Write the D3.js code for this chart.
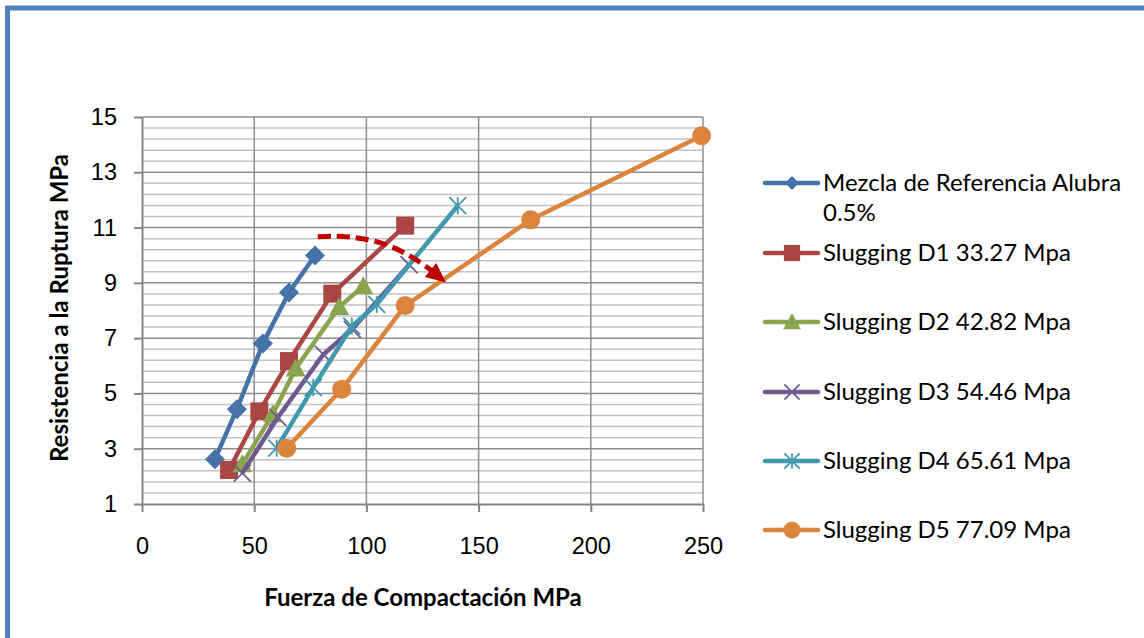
<!DOCTYPE html>
<meta charset="utf-8">
<style>
body { margin: 0; background: #fff; }
svg { display: block; font-family: Lato, "Open Sans", sans-serif; }
.grid-minor line { stroke: #c3c3c3; stroke-width: 1.5px; }
.grid-major line { stroke: #8e8e8e; stroke-width: 1.5px; }
.axis path, .axis line { stroke: #868686; stroke-width: 2px; }
.axis text { font-size: 23.5px; fill: #000; }
.title { font-weight: bold; font-size: 24px; fill: #000; }
.legend text { font-size: 24px; fill: #000; }
</style>
<svg width="1144" height="638"></svg>

<script src="https://d3js.org/d3.v7.min.js"></script>
<script>

// values
var seriesNames = ["Mezcla de Referencia Alubra 0.5%", "Slugging D1 33.27 Mpa", "Slugging D2 42.82 Mpa",
                   "Slugging D3 54.46 Mpa", "Slugging D4 65.61 Mpa", "Slugging D5 77.09 Mpa"];
var mezclaX = [32.5, 42.3, 53.9, 65.5, 77.1],   mezclaY = [2.62, 4.43, 6.81, 8.65, 9.99];
var d1X = [38.8, 52.3, 65.5, 84.8, 117.3],      d1Y = [2.23, 4.35, 6.17, 8.61, 11.07];
var d2X = [44.7, 58.3, 68.5, 87.9, 98.6],       d2Y = [2.44, 4.25, 5.90, 8.13, 8.88];
var d3X = [44.7, 60.5, 80.8, 93.7, 119.0],      d3Y = [2.12, 4.13, 6.41, 7.32, 9.66];
var d4X = [60.0, 76.3, 93.5, 104.6, 140.7],     d4Y = [3.02, 5.21, 7.43, 8.22, 11.79];
var d5X = [64.5, 89.0, 117.3, 173.2, 249.4],    d5Y = [3.02, 5.15, 8.18, 11.28, 14.32];
var xTicks = [0, 50, 100, 150, 200, 250];
var yTicks = [1, 3, 5, 7, 9, 11, 13, 15];
// red dashed arrow drawn on the chart (start, two control points, end, tip)
var arrowX = [78.3, 103.0, 116.4, 131.9, 135.5];
var arrowY = [10.67, 10.78, 10.27, 9.26, 9.01];

var colors = ["#4572a7", "#aa4643", "#89a54e", "#71588f", "#4198af", "#db843d"];
var shapes = ["diamond", "square", "triangle", "x", "star", "circle"];

var series = [[mezclaX, mezclaY], [d1X, d1Y], [d2X, d2Y], [d3X, d3Y], [d4X, d4Y], [d5X, d5Y]]
  .map(function(s, i) {
    return {
      name: seriesNames[i], color: colors[i], shape: shapes[i],
      points: s[0].map(function(x, j) { return {x: x, y: s[1][j]}; })
    };
  });

var svg = d3.select("svg");

// outer frame
svg.append("rect")
    .attr("x", 7.5).attr("y", 8).attr("width", 1200).attr("height", 700)
    .attr("fill", "none").attr("stroke", "#4f81bd").attr("stroke-width", 5);

var x = d3.scaleLinear().domain([0, 250]).range([142, 703]);
var y = d3.scaleLinear().domain([1, 15]).range([504, 117]);

// gridlines
var minor = d3.range(0, 36).map(function(i) { return 1 + i * 0.4; })
  .filter(function(v) { return Math.abs((v - 1) % 2) > 0.01 && Math.abs((v - 1) % 2 - 2) > 0.01; });

svg.append("g").attr("class", "grid-minor")
  .selectAll("line").data(minor).enter().append("line")
    .attr("x1", x(0)).attr("x2", x(250))
    .attr("y1", function(d) { return y(d); }).attr("y2", function(d) { return y(d); });

svg.append("g").attr("class", "grid-major")
  .selectAll("line").data(yTicks.slice(1)).enter().append("line")
    .attr("x1", x(0)).attr("x2", x(250))
    .attr("y1", function(d) { return y(d); }).attr("y2", function(d) { return y(d); });

svg.append("g").attr("class", "grid-major")
  .selectAll("line").data(xTicks.slice(1)).enter().append("line")
    .attr("y1", y(1)).attr("y2", y(15))
    .attr("x1", function(d) { return x(d); }).attr("x2", function(d) { return x(d); });

// axes
svg.append("g").attr("class", "axis")
    .attr("transform", "translate(" + x(0) + ",0)")
    .call(d3.axisLeft(y).tickValues(yTicks).tickSize(8).tickSizeOuter(0).tickPadding(17));

svg.append("g").attr("class", "axis")
    .attr("transform", "translate(0," + y(1) + ")")
    .call(d3.axisBottom(x).tickValues(xTicks).tickSize(8).tickSizeOuter(0).tickPadding(25));

svg.selectAll(".axis .domain").attr("stroke", "#868686");

// marker shapes
function markerPath(shape, s) {
  switch (shape) {
    case "diamond": return "M0," + (-s) + "L" + s + ",0L0," + s + "L" + (-s) + ",0Z";
    case "square": return "M" + (-s) + "," + (-s) + "h" + 2 * s + "v" + 2 * s + "h" + (-2 * s) + "Z";
    case "triangle": return "M0," + (-s) + "L" + s + "," + (s * 0.8) + "L" + (-s) + "," + (s * 0.8) + "Z";
    case "x": return "M" + (-s) + "," + (-s) + "L" + s + "," + s + "M" + (-s) + "," + s + "L" + s + "," + (-s);
    case "star": return "M" + (-s) + "," + (-s) + "L" + s + "," + s + "M" + (-s) + "," + s + "L" + s + "," + (-s) +
                        "M0," + (-s) + "L0," + s;
    case "circle": return d3.symbol(d3.symbolCircle, Math.PI * s * s)();
  }
}
var markerSize = {diamond: 10, square: 9, triangle: 10, x: 8.5, star: 8.5, circle: 9.5};

function drawMarker(g, d, shape, color, size) {
  var open = shape === "x" || shape === "star";
  g.append("path")
    .attr("d", markerPath(shape, size))
    .attr("fill", open ? "none" : color)
    .attr("stroke", color)
    .attr("stroke-width", open ? 1.8 : 0);
}

var line = d3.line().x(function(d) { return x(d.x); }).y(function(d) { return y(d.y); });

series.forEach(function(s) {
  var g = svg.append("g");
  g.append("path")
      .attr("d", line(s.points))
      .attr("fill", "none")
      .attr("stroke", s.color)
      .attr("stroke-width", 4.5)
      .attr("stroke-linejoin", "round");
  s.points.forEach(function(p) {
    var m = g.append("g").attr("transform", "translate(" + x(p.x) + "," + y(p.y) + ")");
    drawMarker(m, p, s.shape, s.color, markerSize[s.shape]);
  });
});

// red dashed arrow
var ax = arrowX.map(x), ay = arrowY.map(y);
svg.append("path")
    .attr("d", "M" + ax[0] + "," + ay[0] + "C" + ax[1] + "," + ay[1] + " " + ax[2] + "," + ay[2] + " " + ax[3] + "," + ay[3])
    .attr("fill", "none")
    .attr("stroke", "#c00000")
    .attr("stroke-width", 5)
    .attr("stroke-dasharray", "13,6");

var ang = Math.atan2(ay[4] - ay[2], ax[4] - ax[2]);
var hl = 20, hw = 9;
var bx = ax[4] - hl * Math.cos(ang), by = ay[4] - hl * Math.sin(ang);
svg.append("path")
    .attr("d", "M" + ax[4] + "," + ay[4] +
               "L" + (bx - hw * Math.sin(ang)) + "," + (by + hw * Math.cos(ang)) +
               "L" + (bx + hw * Math.sin(ang)) + "," + (by - hw * Math.cos(ang)) + "Z")
    .attr("fill", "#c00000");

// axis titles
svg.append("text").attr("class", "title")
    .attr("transform", "translate(60,308) rotate(-90)")
    .attr("text-anchor", "middle").attr("dy", "0.35em")
    .text("Resistencia a la Ruptura MPa");

svg.append("text").attr("class", "title")
    .attr("x", 423).attr("y", 598)
    .attr("text-anchor", "middle").attr("dy", "0.35em")
    .text("Fuerza de Compactación MPa");

// legend
var legendY = [183, 253, 322, 392, 461, 530];
var legend = svg.append("g").attr("class", "legend");
series.forEach(function(s, i) {
  var g = legend.append("g").attr("transform", "translate(0," + legendY[i] + ")");
  g.append("line").attr("x1", 765).attr("x2", 818)
      .attr("stroke", s.color).attr("stroke-width", 4.5).attr("stroke-linecap", "round");
  var m = g.append("g").attr("transform", "translate(792,0)");
  drawMarker(m, null, s.shape, s.color, s.shape === "diamond" ? 7 : markerSize[s.shape] * 0.9);
  var t = g.append("text").attr("x", 823).attr("dy", "0.35em");
  if (i === 0) {
    t.text("Mezcla de Referencia Alubra");
    g.append("text").attr("x", 823).attr("y", 30).attr("dy", "0.35em").text("0.5%");
  } else {
    t.text(s.name);
  }
});

</script>
